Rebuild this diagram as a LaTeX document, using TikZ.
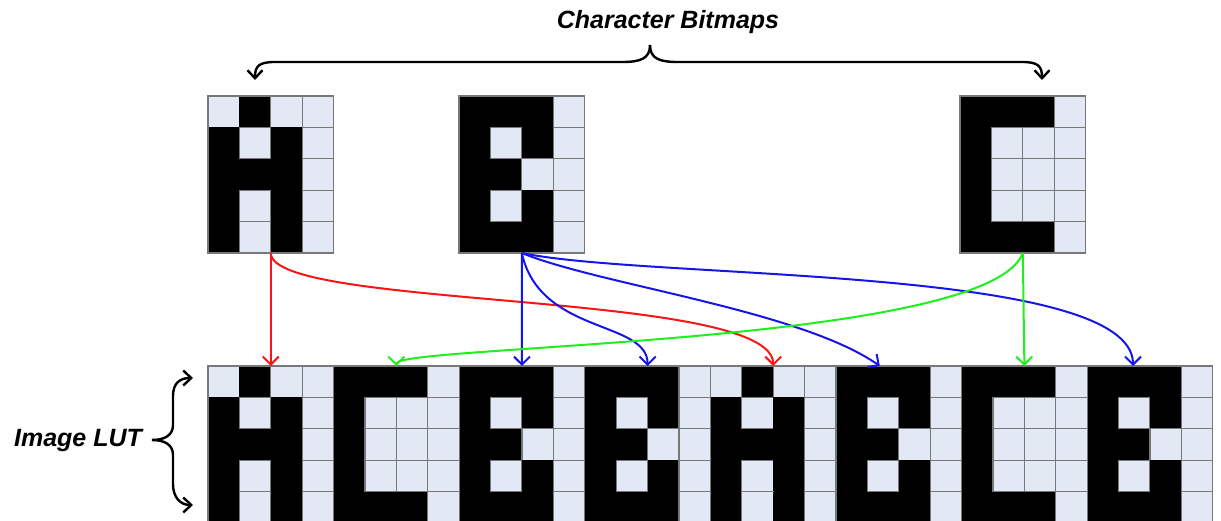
\documentclass[tikz,border=0pt]{standalone}
\usepackage{fontspec}
\newfontfamily\labelfont{Liberation Sans}
\usetikzlibrary{arrows.meta}

\definecolor{pixlight}{RGB}{226,233,245}
\definecolor{pixgrid}{RGB}{120,120,120}
\definecolor{linkred}{RGB}{250,20,20}
\definecolor{linkblue}{RGB}{20,20,235}
\definecolor{linkgreen}{RGB}{30,240,30}

\newcommand{\cellsz}{31.4}
% 4x5 character bitmaps, 1 = black pixel
\newcommand{\charA}{{0,1,0,0},{1,0,1,0},{1,1,1,0},{1,0,1,0},{1,0,1,0}}
\newcommand{\charB}{{1,1,1,0},{1,0,1,0},{1,1,0,0},{1,0,1,0},{1,1,1,0}}
\newcommand{\charC}{{1,1,1,0},{1,0,0,0},{1,0,0,0},{1,0,0,0},{1,1,1,0}}

\tikzset{
  bitmapbox/.style={minimum width=125.6pt,minimum height=157pt,inner sep=0pt,outer sep=0pt,anchor=north west},
  pixon/.style={fill=black},
  pixoff/.style={fill=pixlight,draw=pixgrid,line width=1.1pt},
  maplink/.style={line width=2pt,-{Straight Barb[length=8pt,width=16pt]}},
  bracearrow/.style={line width=2.4pt,-{Straight Barb[length=8pt,width=15pt]}},
  titletext/.style={font=\labelfont\bfseries\itshape\fontsize{25}{30}\selectfont,inner sep=0pt}
}

\newcommand{\bitmap}[3]{%
  \node[bitmapbox] (#1) at (#2) {};
  \expandafter\let\expandafter\curpattern\csname char#3\endcsname
  \foreach \row [count=\iy from 0] in \curpattern {
    \foreach \bit [count=\ix from 0] in \row {
      \ifnum\bit=1
        \fill[pixon] ([shift={(\ix*\cellsz,-\iy*\cellsz)}]#1.north west) rectangle ++(\cellsz,-\cellsz);
      \else
        \filldraw[pixoff] ([shift={(\ix*\cellsz,-\iy*\cellsz)}]#1.north west) rectangle ++(\cellsz,-\cellsz);
      \fi
    }
  }
  \draw[pixgrid,line width=1.1pt] (#1.north west) rectangle (#1.south east);
}

\begin{document}
\begin{tikzpicture}[x=1pt,y=1pt]
\useasboundingbox (0,0) rectangle (1221,521);

% character bitmaps
\bitmap{A}{208,425}{A}
\bitmap{B}{459,425}{B}
\bitmap{C}{960,425}{C}

% image lut
\foreach \ch [count=\i from 0] in {A,C,B,B,A,B,C,B} {
  \bitmap{lut\i}{{208+125.6*\i},155}{\ch}
}

% titles and braces
\node[titletext] (captitle) at (668,499) {Character Bitmaps};
\node[titletext] (luttitle) at (78,81) {Image LUT};

\coordinate (capcusp) at (650,476);
\coordinate (capL) at (255,441);
\coordinate (capR) at (1042,441);
\draw[bracearrow] (capcusp) .. controls (650,462) and (640,459) .. (622,459) -- (275,459) .. controls (259,459) and (255,455) .. (capL);
\draw[bracearrow] (capcusp) .. controls (650,462) and (660,459) .. (678,459) -- (1022,459) .. controls (1038,459) and (1042,455) .. (capR);

\coordinate (lutcusp) at (152,81);
\coordinate (lutT) at (193,143);
\coordinate (lutB) at (193,16);
\draw[bracearrow] (lutcusp) .. controls (165,81) and (173,86) .. (173,96) -- (173,125) .. controls (173,138) and (180,143) .. (lutT);
\draw[bracearrow] (lutcusp) .. controls (165,81) and (173,76) .. (173,66) -- (173,37) .. controls (173,24) and (180,16) .. (lutB);

% mapping arrows
\draw[maplink,linkred] (A.south) -- (lut0.north);
\draw[maplink,linkred] (A.south) .. controls ([yshift=-57]A.south) and ([yshift=76]lut4.north) .. (lut4.north);

\draw[maplink,linkblue] (B.south) -- (lut2.north);
\draw[maplink,linkblue] (B.south) .. controls ([xshift=18,yshift=-82]B.south) and ([yshift=46]lut3.north) .. (lut3.north);
\draw[maplink,linkblue] (B.south) .. controls ([xshift=78,yshift=-32]B.south) and ([xshift=-99,yshift=56]lut5.north) .. ([xshift=-19]lut5.north);
\draw[maplink,linkblue] (B.south) .. controls ([xshift=128,yshift=-27]B.south) and ([xshift=-17,yshift=101]lut7.north) .. ([xshift=-17]lut7.north);

\draw[maplink,linkgreen] (C.south) -- (lut6.north);
\draw[maplink,linkgreen] (C.south) .. controls ([xshift=-33,yshift=-92]C.south) and ([yshift=21]lut1.north) .. (lut1.north);
\end{tikzpicture}
\end{document}
